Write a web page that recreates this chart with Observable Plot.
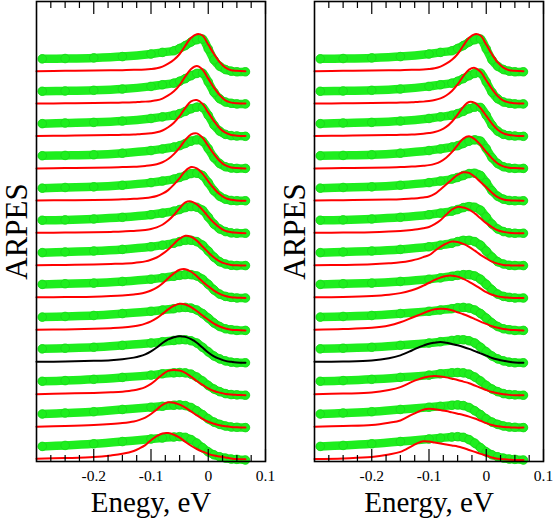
<!DOCTYPE html>
<html><head><meta charset="utf-8">
<script src="https://cdn.jsdelivr.net/npm/d3@7"></script>
<script src="https://cdn.jsdelivr.net/npm/@observablehq/plot@0.6"></script>
<style>
body{margin:0;background:#fff;}
#wrap{display:flex;width:556px;height:518px;overflow:hidden;}
</style></head><body><div id="wrap"></div>
<script>
// energies (eV)
const energiesData = [-0.29, -0.25, -0.2, -0.15, -0.1, -0.08, -0.06, -0.05, -0.04, -0.03, -0.02, -0.01, 0, 0.01, 0.02, 0.03, 0.04, 0.05, 0.065];
const energiesFit = [-0.30, -0.25, -0.20, -0.17, -0.15, -0.13, -0.12, -0.11, -0.10, -0.09, -0.08, -0.07, -0.06, -0.05, -0.04, -0.03, -0.02, -0.01, 0.00, 0.01, 0.02, 0.03, 0.04, 0.05, 0.065];

// measured EDCs (same in both panels), top to bottom
const edcData = [
  [0.38, 0.39, 0.41, 0.45, 0.53, 0.58, 0.63, 0.70, 0.79, 0.90, 0.97, 0.99, 0.69, 0.35, 0.15, 0.05, 0.00, -0.02, -0.02],
  [0.38, 0.39, 0.41, 0.45, 0.53, 0.58, 0.63, 0.69, 0.77, 0.86, 0.93, 0.94, 0.67, 0.35, 0.15, 0.05, 0.01, -0.01, -0.01],
  [0.38, 0.40, 0.42, 0.46, 0.54, 0.59, 0.64, 0.69, 0.76, 0.84, 0.89, 0.88, 0.64, 0.34, 0.15, 0.05, 0.01, 0.00, -0.01],
  [0.39, 0.40, 0.42, 0.47, 0.55, 0.60, 0.66, 0.70, 0.77, 0.84, 0.88, 0.84, 0.61, 0.33, 0.15, 0.05, 0.01, 0.00, 0.00],
  [0.39, 0.41, 0.43, 0.48, 0.56, 0.61, 0.67, 0.72, 0.78, 0.84, 0.85, 0.78, 0.56, 0.31, 0.14, 0.05, 0.01, 0.00, 0.00],
  [0.40, 0.41, 0.44, 0.49, 0.57, 0.62, 0.68, 0.73, 0.79, 0.82, 0.80, 0.71, 0.50, 0.28, 0.13, 0.05, 0.01, 0.00, 0.00],
  [0.40, 0.42, 0.45, 0.50, 0.58, 0.63, 0.69, 0.74, 0.78, 0.78, 0.74, 0.63, 0.45, 0.26, 0.12, 0.05, 0.01, 0.00, 0.00],
  [0.42, 0.44, 0.46, 0.51, 0.58, 0.62, 0.67, 0.70, 0.72, 0.72, 0.68, 0.58, 0.42, 0.25, 0.12, 0.05, 0.02, 0.00, 0.00],
  [0.41, 0.43, 0.46, 0.52, 0.59, 0.63, 0.67, 0.70, 0.71, 0.69, 0.63, 0.52, 0.38, 0.23, 0.12, 0.05, 0.02, 0.00, 0.00],
  [0.43, 0.45, 0.48, 0.54, 0.61, 0.65, 0.69, 0.71, 0.71, 0.68, 0.61, 0.48, 0.34, 0.21, 0.12, 0.06, 0.02, 0.00, 0.00],
  [0.43, 0.45, 0.49, 0.55, 0.62, 0.66, 0.69, 0.70, 0.69, 0.65, 0.56, 0.44, 0.30, 0.19, 0.11, 0.05, 0.02, 0.01, 0.00],
  [0.42, 0.45, 0.49, 0.56, 0.63, 0.66, 0.69, 0.70, 0.68, 0.62, 0.52, 0.40, 0.27, 0.17, 0.10, 0.05, 0.02, 0.01, 0.00],
  [0.42, 0.45, 0.50, 0.57, 0.65, 0.68, 0.71, 0.72, 0.70, 0.63, 0.52, 0.38, 0.25, 0.16, 0.10, 0.06, 0.03, 0.02, 0.00]
];

// fits, left panel
const fitLeft = [
  [0.00, 0.01, 0.02, 0.025, 0.03, 0.04, 0.045, 0.05, 0.065, 0.09, 0.14, 0.23, 0.35, 0.53, 0.79, 1.03, 1.14, 1.10, 0.82, 0.53, 0.28, 0.11, 0.03, 0.01, 0.00],
  [0.00, 0.01, 0.02, 0.025, 0.03, 0.04, 0.05, 0.06, 0.075, 0.10, 0.155, 0.25, 0.38, 0.57, 0.84, 1.07, 1.16, 1.05, 0.77, 0.49, 0.26, 0.10, 0.03, 0.01, 0.00],
  [0.00, 0.01, 0.02, 0.03, 0.035, 0.045, 0.055, 0.065, 0.085, 0.115, 0.17, 0.27, 0.41, 0.61, 0.87, 1.07, 1.11, 0.99, 0.72, 0.46, 0.24, 0.10, 0.03, 0.01, 0.00],
  [0.00, 0.01, 0.02, 0.03, 0.04, 0.05, 0.06, 0.075, 0.095, 0.13, 0.19, 0.29, 0.44, 0.64, 0.88, 1.05, 1.08, 0.95, 0.69, 0.44, 0.23, 0.09, 0.03, 0.01, 0.00],
  [0.01, 0.015, 0.025, 0.035, 0.045, 0.06, 0.07, 0.085, 0.11, 0.15, 0.22, 0.33, 0.50, 0.70, 0.92, 1.04, 1.00, 0.84, 0.60, 0.38, 0.20, 0.08, 0.03, 0.01, 0.00],
  [0.01, 0.02, 0.03, 0.04, 0.05, 0.07, 0.08, 0.10, 0.13, 0.18, 0.26, 0.39, 0.56, 0.77, 0.95, 0.98, 0.89, 0.72, 0.51, 0.32, 0.17, 0.07, 0.03, 0.01, 0.00],
  [0.01, 0.02, 0.035, 0.05, 0.06, 0.08, 0.10, 0.13, 0.18, 0.25, 0.36, 0.50, 0.67, 0.83, 0.92, 0.89, 0.77, 0.59, 0.41, 0.25, 0.13, 0.06, 0.02, 0.01, 0.00],
  [0.02, 0.03, 0.04, 0.06, 0.08, 0.11, 0.13, 0.17, 0.23, 0.32, 0.45, 0.61, 0.76, 0.87, 0.89, 0.81, 0.67, 0.51, 0.36, 0.23, 0.13, 0.06, 0.02, 0.01, 0.00],
  [0.02, 0.03, 0.05, 0.07, 0.09, 0.13, 0.16, 0.21, 0.28, 0.38, 0.51, 0.65, 0.76, 0.82, 0.80, 0.72, 0.60, 0.46, 0.33, 0.21, 0.12, 0.06, 0.02, 0.01, 0.00],
  [0.03, 0.04, 0.06, 0.08, 0.11, 0.16, 0.20, 0.26, 0.35, 0.47, 0.61, 0.72, 0.79, 0.82, 0.80, 0.73, 0.62, 0.47, 0.32, 0.20, 0.12, 0.06, 0.03, 0.01, 0.00],
  [0.03, 0.05, 0.07, 0.09, 0.11, 0.15, 0.19, 0.25, 0.35, 0.49, 0.64, 0.75, 0.78, 0.76, 0.69, 0.57, 0.44, 0.32, 0.21, 0.13, 0.08, 0.04, 0.02, 0.01, 0.00],
  [0.03, 0.05, 0.08, 0.11, 0.14, 0.19, 0.24, 0.31, 0.42, 0.56, 0.70, 0.78, 0.77, 0.71, 0.62, 0.50, 0.38, 0.27, 0.18, 0.12, 0.07, 0.04, 0.02, 0.01, 0.00],
  [0.04, 0.06, 0.09, 0.14, 0.19, 0.28, 0.36, 0.46, 0.61, 0.74, 0.82, 0.83, 0.78, 0.69, 0.56, 0.44, 0.34, 0.26, 0.19, 0.14, 0.11, 0.08, 0.05, 0.03, 0.02]
];

// fits, right panel
const fitRight = [
  [0.00, 0.01, 0.02, 0.025, 0.03, 0.04, 0.045, 0.05, 0.065, 0.09, 0.14, 0.23, 0.35, 0.53, 0.79, 1.03, 1.14, 1.10, 0.82, 0.52, 0.27, 0.11, 0.03, 0.01, 0.00],
  [0.00, 0.01, 0.02, 0.025, 0.03, 0.04, 0.05, 0.06, 0.08, 0.11, 0.16, 0.25, 0.39, 0.59, 0.85, 1.05, 1.10, 0.98, 0.72, 0.45, 0.23, 0.09, 0.03, 0.01, 0.00],
  [0.00, 0.01, 0.02, 0.03, 0.035, 0.045, 0.055, 0.07, 0.09, 0.12, 0.18, 0.28, 0.44, 0.66, 0.90, 1.05, 1.02, 0.86, 0.62, 0.38, 0.19, 0.08, 0.03, 0.01, 0.00],
  [0.00, 0.01, 0.02, 0.03, 0.04, 0.055, 0.065, 0.08, 0.10, 0.14, 0.21, 0.33, 0.50, 0.72, 0.92, 0.99, 0.90, 0.72, 0.51, 0.31, 0.15, 0.06, 0.02, 0.01, 0.00],
  [0.01, 0.02, 0.03, 0.04, 0.05, 0.07, 0.08, 0.10, 0.13, 0.21, 0.35, 0.50, 0.66, 0.80, 0.88, 0.86, 0.74, 0.58, 0.42, 0.25, 0.11, 0.04, 0.015, 0.005, 0.00],
  [0.01, 0.02, 0.03, 0.05, 0.07, 0.10, 0.12, 0.15, 0.19, 0.28, 0.40, 0.57, 0.73, 0.81, 0.79, 0.73, 0.61, 0.46, 0.31, 0.19, 0.09, 0.04, 0.01, 0.00, 0.00],
  [0.01, 0.02, 0.04, 0.07, 0.10, 0.16, 0.20, 0.26, 0.32, 0.45, 0.58, 0.68, 0.74, 0.73, 0.67, 0.58, 0.46, 0.33, 0.22, 0.12, 0.06, 0.02, 0.01, 0.00, 0.00],
  [0.02, 0.03, 0.06, 0.10, 0.15, 0.24, 0.30, 0.38, 0.47, 0.56, 0.63, 0.68, 0.69, 0.66, 0.59, 0.50, 0.40, 0.29, 0.18, 0.10, 0.05, 0.02, 0.01, 0.00, 0.00],
  [0.02, 0.04, 0.08, 0.15, 0.25, 0.39, 0.46, 0.53, 0.60, 0.65, 0.67, 0.66, 0.62, 0.56, 0.50, 0.43, 0.35, 0.27, 0.20, 0.13, 0.08, 0.04, 0.02, 0.01, 0.00],
  [0.03, 0.04, 0.07, 0.14, 0.23, 0.38, 0.46, 0.53, 0.59, 0.62, 0.64, 0.62, 0.58, 0.54, 0.49, 0.43, 0.36, 0.29, 0.22, 0.15, 0.10, 0.06, 0.03, 0.01, 0.00],
  [0.03, 0.05, 0.08, 0.16, 0.25, 0.41, 0.48, 0.54, 0.58, 0.59, 0.58, 0.55, 0.51, 0.47, 0.42, 0.37, 0.30, 0.23, 0.16, 0.10, 0.06, 0.03, 0.01, 0.00, 0.00],
  [0.03, 0.05, 0.08, 0.15, 0.22, 0.40, 0.48, 0.55, 0.58, 0.57, 0.54, 0.51, 0.47, 0.43, 0.39, 0.34, 0.28, 0.21, 0.14, 0.08, 0.04, 0.02, 0.01, 0.00, 0.00],
  [0.03, 0.05, 0.09, 0.17, 0.25, 0.43, 0.52, 0.58, 0.57, 0.54, 0.51, 0.48, 0.45, 0.42, 0.37, 0.31, 0.25, 0.19, 0.14, 0.08, 0.04, 0.02, 0.01, 0.00, 0.00]
];

const blackIndex = 9;
const majorTicks = [-0.2, -0.1, 0, 0.1];
const minorTicks = [-0.275, -0.25, -0.225, -0.175, -0.15, -0.125, -0.075, -0.05, -0.025, 0.025, 0.05, 0.075];
const tickLabels = ["-0.2", "-0.1", "0", "0.1"];
const xLabels = ["Enegy, eV", "Energy, eV"];
const yLabel = "ARPES";

const SERIF = "Liberation Serif, Times New Roman, serif";
const GREEN = "#1eee1e";

function panel(fits, xlabel) {
  const n = edcData.length;
  const dataRows = edcData.flatMap((vals, i) => vals.map((v, k) => ({E: energiesData[k], y: (n - 1 - i) + v, curve: i})));
  const fitRows = fits.flatMap((vals, i) => vals.map((v, k) => ({E: energiesFit[k], y: (n - 1 - i) + v, curve: i})));
  const W = 278, H = 518, mt = 1, mb = 57, ml = 36, mr = 13;
  const yDomain = [-0.046, 14.15];
  const pxPerUnit = (H - mt - mb) / (yDomain[1] - yDomain[0]);
  const len = px => px / pxPerUnit;
  const lo = yDomain[0], hi = yDomain[1];
  return Plot.plot({
    width: W, height: H,
    marginTop: mt, marginBottom: mb, marginLeft: ml, marginRight: mr,
    style: {background: "white"},
    x: {domain: [-0.3, 0.1], axis: null},
    y: {domain: yDomain, axis: null},
    marks: [
      Plot.line(dataRows, {x: "E", y: "y", z: "curve", stroke: GREEN, strokeWidth: 8.5, curve: "catmull-rom", strokeLinecap: "round", strokeLinejoin: "round"}),
      Plot.dot(dataRows, {x: "E", y: "y", r: 4.3, fill: GREEN, stroke: "#19d619", strokeWidth: 0.8}),
      Plot.line(fitRows.filter(d => d.curve !== blackIndex), {x: "E", y: "y", z: "curve", stroke: "#ff0000", strokeWidth: 2, curve: "catmull-rom"}),
      Plot.line(fitRows.filter(d => d.curve === blackIndex), {x: "E", y: "y", z: "curve", stroke: "#000000", strokeWidth: 2, curve: "catmull-rom"}),
      Plot.ruleX(majorTicks, {x: d => d, y1: lo, y2: lo + len(12), stroke: "black", strokeWidth: 1.2}),
      Plot.ruleX(minorTicks, {x: d => d, y1: lo, y2: lo + len(6), stroke: "black", strokeWidth: 1.2}),
      Plot.ruleX(majorTicks, {x: d => d, y1: hi, y2: hi - len(13), stroke: "black", strokeWidth: 1.2}),
      Plot.ruleX(minorTicks, {x: d => d, y1: hi, y2: hi - len(7), stroke: "black", strokeWidth: 1.2}),
      Plot.frame({stroke: "black", strokeWidth: 1.6}),
      Plot.text(majorTicks, {x: d => d, text: (d, i) => tickLabels[i], frameAnchor: "bottom", lineAnchor: "bottom", dy: 19, fontSize: 15.5, fontFamily: SERIF, fill: "black"}),
      Plot.text([xlabel], {text: d => d, frameAnchor: "bottom", lineAnchor: "bottom", dy: 50, fontSize: 29, fontFamily: SERIF, fill: "black"}),
      Plot.text([yLabel], {text: d => d, frameAnchor: "left", textAnchor: "middle", dx: -19, rotate: -90, fontSize: 31, fontFamily: SERIF, fill: "black"})
    ]
  });
}

const wrap = document.getElementById("wrap");
wrap.appendChild(panel(fitLeft, xLabels[0]));
wrap.appendChild(panel(fitRight, xLabels[1]));
</script>
</body></html>
